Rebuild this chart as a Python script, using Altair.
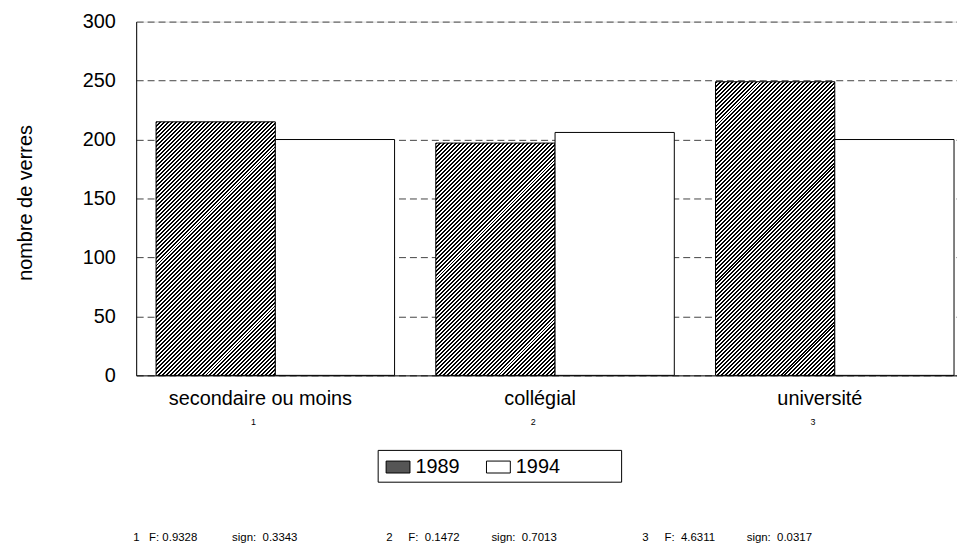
import altair as alt
import pandas as pd

# ---- data ----
categories = ["secondaire ou moins", "collégial", "université"]
cat_numbers = ["1", "2", "3"]
years = ["1989", "1994"]
values_1989 = [215, 197, 249]
values_1994 = [200, 206, 200]
f_values = ["0.9328", "0.1472", "4.6311"]
sign_values = ["0.3343", "0.7013", "0.0317"]

FONT = "Liberation Sans"
WIDTH, HEIGHT = 826, 356
Y_MAX = 300

rows = []
for c, v89, v94 in zip(categories, values_1989, values_1994):
    rows.append({"category": c, "year": "1989", "value": v89})
    rows.append({"category": c, "year": "1994", "value": v94})
df = pd.DataFrame(rows)
sub_df = pd.DataFrame({"category": categories, "num": cat_numbers})

# footnote text (non-breaking spaces keep the tab-like gaps)
nb = "\u00a0"
g1 = cat_numbers[0] + nb * 3 + "F:" + nb + f_values[0] + nb * 11 + "sign:" + nb * 2 + sign_values[0]
g2 = cat_numbers[1] + nb * 5 + "F:" + nb * 2 + f_values[1] + nb * 10 + "sign:" + nb * 2 + sign_values[1]
g3 = cat_numbers[2] + nb * 5 + "F:" + nb * 2 + f_values[2] + nb * 10 + "sign:" + nb * 2 + sign_values[2]
foot_df = pd.DataFrame({"t": [g1 + nb * 28 + g2 + nb * 27 + g3]})

# ---- x band geometry (style) ----
P_INNER, P_OUTER, ALIGN = 0.1474, 0.04085, 0.87
step = WIDTH / (len(categories) - P_INNER + 2 * P_OUTER)
bar_w = step * (1 - P_INNER) / 2


def hatch_for(value, span=512.0, slots=256):
    """45-degree stripe gradient (2px black / 2px white along x+y)."""
    h = value * HEIGHT / Y_MAX
    r = h / bar_w
    k = span / (bar_w * (1 + r * r))
    stops = []
    d = 1.0 / slots
    for j in range(0, slots, 2):
        a = j * d
        b = (j + 1) * d
        c = (j + 2) * d
        stops += [
            {"offset": round(a, 6), "color": "#000000"},
            {"offset": round(b, 6), "color": "#000000"},
            {"offset": round(b, 6), "color": "#ffffff"},
            {"offset": round(min(c, 1.0), 6), "color": "#ffffff"},
        ]
    return {"gradient": "linear", "stops": stops,
            "x1": 0, "y1": 0, "x2": round(k, 6), "y2": round(k * r, 6)}


conditions = []
for c, v in zip(categories, values_1989):
    conditions.append({
        "test": f"datum.year == '1989' && datum.category == '{c}'",
        "value": hatch_for(v),
    })

x_axis = alt.Axis(
    title=None, labelAngle=0, labelFont=FONT, labelFontSize=20, labelColor="black",
    labelPadding=29, labelBaseline="alphabetic", labelOffset=-15, labelLimit=400,
    ticks=False, tickSize=0, domainColor="black", domainWidth=1, grid=False,
)
x_scale = alt.Scale(paddingInner=P_INNER, paddingOuter=P_OUTER, align=ALIGN)
x_enc = alt.X("category:N", sort=categories, scale=x_scale, axis=x_axis)

legend = alt.Legend(
    orient="none", legendX=243, legendY=431, direction="horizontal",
    title="1994", titleOrient="right", titleFont=FONT, titleFontSize=20,
    titleFontWeight="normal", titleOpacity=0, titlePadding=12,
    padding=4.5, strokeColor="black",
    symbolType="M-1,-0.5H1V0.5H-1Z", symbolSize=576, symbolStrokeColor="black",
    symbolStrokeWidth=1, symbolOpacity=1, symbolOffset=3.5,
    labelFont=FONT, labelFontSize=20, labelColor="black", labelOffset=5,
    columnPadding=23,
)

fill_enc = alt.Fill(
    "year:N", sort=years,
    scale=alt.Scale(domain=years, range=["#555555", "#ffffff"]),
    legend=legend,
    condition=conditions,
)

bars = alt.Chart(df).mark_bar(stroke="black", strokeWidth=1, opacity=1).encode(
    x=x_enc,
    xOffset=alt.XOffset("year:N", sort=years, scale=alt.Scale(paddingInner=0, paddingOuter=0)),
    y=alt.Y(
        "value:Q",
        scale=alt.Scale(domain=[0, Y_MAX], nice=False),
        axis=alt.Axis(
            values=[0, 50, 100, 150, 200, 250, 300],
            title="nombre de verres", titleFont=FONT, titleFontSize=20,
            titleFontWeight="normal", titleColor="black",
            titleAngle=-90, titleX=-105, titleY=182, titleAlign="center",
            titleBaseline="alphabetic",
            labelFont=FONT, labelFontSize=20, labelColor="black", labelPadding=21,
            ticks=False, tickSize=0, domainColor="black", domainWidth=1,
            grid=True, gridDash=[7, 4], gridColor="#444444", gridWidth=1,
        ),
    ),
    fill=fill_enc,
)

sub = alt.Chart(sub_df).mark_text(
    font=FONT, fontSize=9, baseline="middle", align="center", dx=-22, color="black"
).encode(
    x=x_enc,
    y=alt.value(402.5),
    text="num:N",
)

foot = alt.Chart(foot_df).mark_text(
    font=FONT, fontSize=11.5, baseline="alphabetic", align="left", color="black"
).encode(
    x=alt.value(-3),
    y=alt.value(523),
    text="t:N",
)

chart = alt.layer(bars, sub, foot).properties(
    width=WIDTH,
    height=HEIGHT,
    autosize=alt.AutoSizeParams(type="none"),
    padding={"left": 129, "top": 12, "right": 0, "bottom": 167},
).configure_view(stroke=None).configure(font=FONT, background="white")

chart.save("out.html", embed_options={"renderer": "svg", "actions": False})
